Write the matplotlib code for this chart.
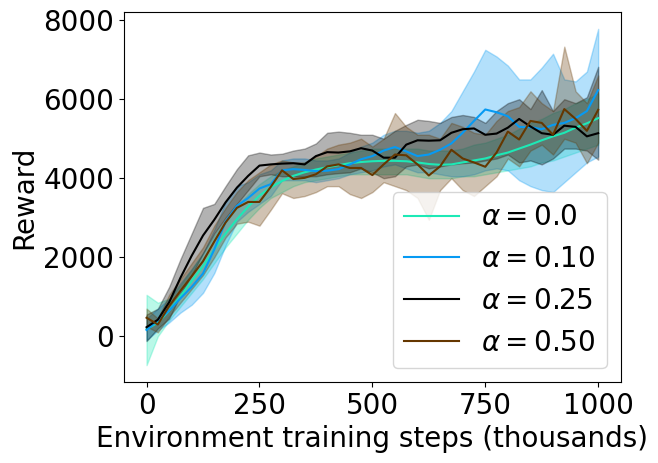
import numpy as np
import matplotlib
matplotlib.use('Agg')
import matplotlib.pyplot as plt

steps = np.arange(0, 1001, 25)

# alpha = 0.0
mean_a0 = [180, 350, 650, 1020, 1400, 1780, 2200, 2600, 2960, 3280, 3560, 3770, 3930, 4060,
           4150, 4220, 4280, 4330, 4380, 4410, 4430, 4440, 4440, 4430, 4400, 4360, 4340, 4350,
           4400, 4450, 4500, 4580, 4650, 4750, 4850, 4960, 5060, 5150, 5280, 5390, 5520]
low_a0 = [-730, 0, 400, 750, 1100, 1450, 1850, 2250, 2600, 2950, 3250, 3500, 3650, 3800,
          3900, 3950, 4000, 4050, 4100, 4100, 4100, 4100, 4100, 4100, 4050, 4000, 4000, 4000,
          4050, 4050, 4100, 4150, 4200, 4250, 4300, 4400, 4450, 4550, 4650, 4750, 4850]
high_a0 = [1050, 850, 950, 1300, 1700, 2100, 2550, 2950, 3300, 3600, 3850, 4050, 4200, 4300,
           4400, 4500, 4550, 4600, 4650, 4700, 4750, 4750, 4750, 4750, 4750, 4700, 4700, 4700,
           4750, 4850, 4900, 5000, 5100, 5250, 5400, 5500, 5650, 5750, 5900, 6000, 6150]

# alpha = 0.10
mean_a10 = [160, 400, 650, 960, 1250, 1590, 2200, 2900, 3300, 3500, 3740, 3850, 4200, 4230,
            4210, 4180, 4190, 4230, 4350, 4480, 4560, 4700, 4790, 4680, 4560, 4600, 4720, 4880,
            5150, 5450, 5740, 5670, 5570, 5300, 5290, 5240, 5350, 5400, 5520, 5700, 6230]
low_a10 = [-100, 150, 350, 600, 800, 1100, 1600, 2300, 2900, 3150, 3350, 3550, 3950, 3950,
           3950, 3900, 3950, 4000, 4100, 4150, 4200, 4300, 4350, 4250, 4150, 4150, 4100, 4050,
           4050, 4100, 4200, 4250, 4200, 3950, 3800, 3700, 3650, 3900, 4150, 4400, 4550]
high_a10 = [450, 700, 950, 1350, 1700, 2100, 2700, 3400, 3800, 3900, 4100, 4200, 4450, 4500,
            4500, 4450, 4450, 4500, 4650, 4800, 4900, 5100, 5200, 5200, 5150, 5200, 5400, 5700,
            6200, 6700, 7250, 7080, 6850, 6500, 6500, 6800, 7150, 6500, 6450, 6700, 7780]

# alpha = 0.25
mean_a25 = [230, 420, 860, 1480, 2040, 2550, 2950, 3390, 3760, 4060, 4320, 4350, 4370, 4380,
            4350, 4560, 4660, 4650, 4680, 4760, 4700, 4520, 4520, 4850, 4960, 4950, 4960, 5150,
            5240, 5260, 5100, 5130, 5280, 5500, 5310, 5140, 5100, 5330, 5300, 5060, 5140]
low_a25 = [-120, 200, 450, 1050, 1550, 2100, 2600, 3000, 3350, 3700, 4050, 4100, 4050, 4050,
           4050, 4050, 4100, 4130, 4150, 4250, 4150, 4000, 4050, 4300, 4350, 4250, 4300, 4350,
           4380, 4400, 4450, 4500, 4600, 4400, 4450, 4350, 4500, 4750, 4750, 4700, 4470]
high_a25 = [550, 700, 1250, 1950, 2600, 3250, 3350, 3800, 4230, 4580, 4650, 4600, 4620, 4700,
            4750, 4880, 5150, 5180, 5150, 5100, 5100, 5000, 5200, 5350, 5480, 5450, 5400, 5550,
            5600, 5550, 5400, 5700, 5900, 6000, 5750, 6230, 5700, 6000, 5900, 6050, 6820]

# alpha = 0.50
mean_a50 = [470, 300, 765, 1150, 1520, 1900, 2400, 2880, 3250, 3400, 3400, 3780, 4200, 3980,
            4010, 4100, 4300, 4350, 4260, 4260, 4080, 4350, 4600, 4580, 4350, 4070, 4300, 4720,
            4500, 4400, 4290, 4650, 5180, 4980, 5450, 5400, 5100, 5750, 5500, 5200, 5730]
low_a50 = [250, 100, 500, 850, 1200, 1550, 2000, 2500, 2850, 2900, 2800, 3200, 3620, 3500,
           3550, 3650, 3800, 3800, 3600, 3500, 3650, 3900, 3800, 3700, 3500, 2950, 3700, 4000,
           3700, 3550, 3800, 4050, 4500, 4300, 4700, 4850, 4600, 5000, 4900, 4380, 4900]
high_a50 = [700, 450, 1050, 1450, 1850, 2250, 2800, 3250, 3650, 3950, 4150, 4350, 4450, 4400,
            4400, 4550, 4750, 4850, 4900, 5000, 4800, 5000, 5650, 5300, 5100, 5100, 5000, 5400,
            5300, 5150, 5100, 5450, 5700, 5800, 6200, 5900, 5700, 7330, 6200, 5900, 6600]

labels = [r'$\alpha = 0.0$', r'$\alpha = 0.10$', r'$\alpha = 0.25$', r'$\alpha = 0.50$']
colors = ['#1de9b6', '#069af3', 'black', '#653700']
means = [mean_a0, mean_a10, mean_a25, mean_a50]
lows = [low_a0, low_a10, low_a25, low_a50]
highs = [high_a0, high_a10, high_a25, high_a50]

fig = plt.figure(figsize=(6.58, 4.63), dpi=100)
ax = fig.add_axes([0.1884, 0.175, 0.755, 0.799])

for m, lo, hi, c, lab in zip(means, lows, highs, colors, labels):
    ax.plot(steps, m, color=c, label=lab, linewidth=1.5)
    ax.fill_between(steps, lo, hi, color=c, alpha=0.3)

ax.set_xticks([0, 250, 500, 750, 1000])
ax.set_yticks([0, 2000, 4000, 6000, 8000])
ax.tick_params(labelsize=20)
ax.set_xlabel('Environment training steps (thousands)', fontsize=20)
ax.set_ylabel('Reward', fontsize=20)
ax.legend(loc='lower right', fontsize=20)

fig.savefig('out.png', dpi=100)
